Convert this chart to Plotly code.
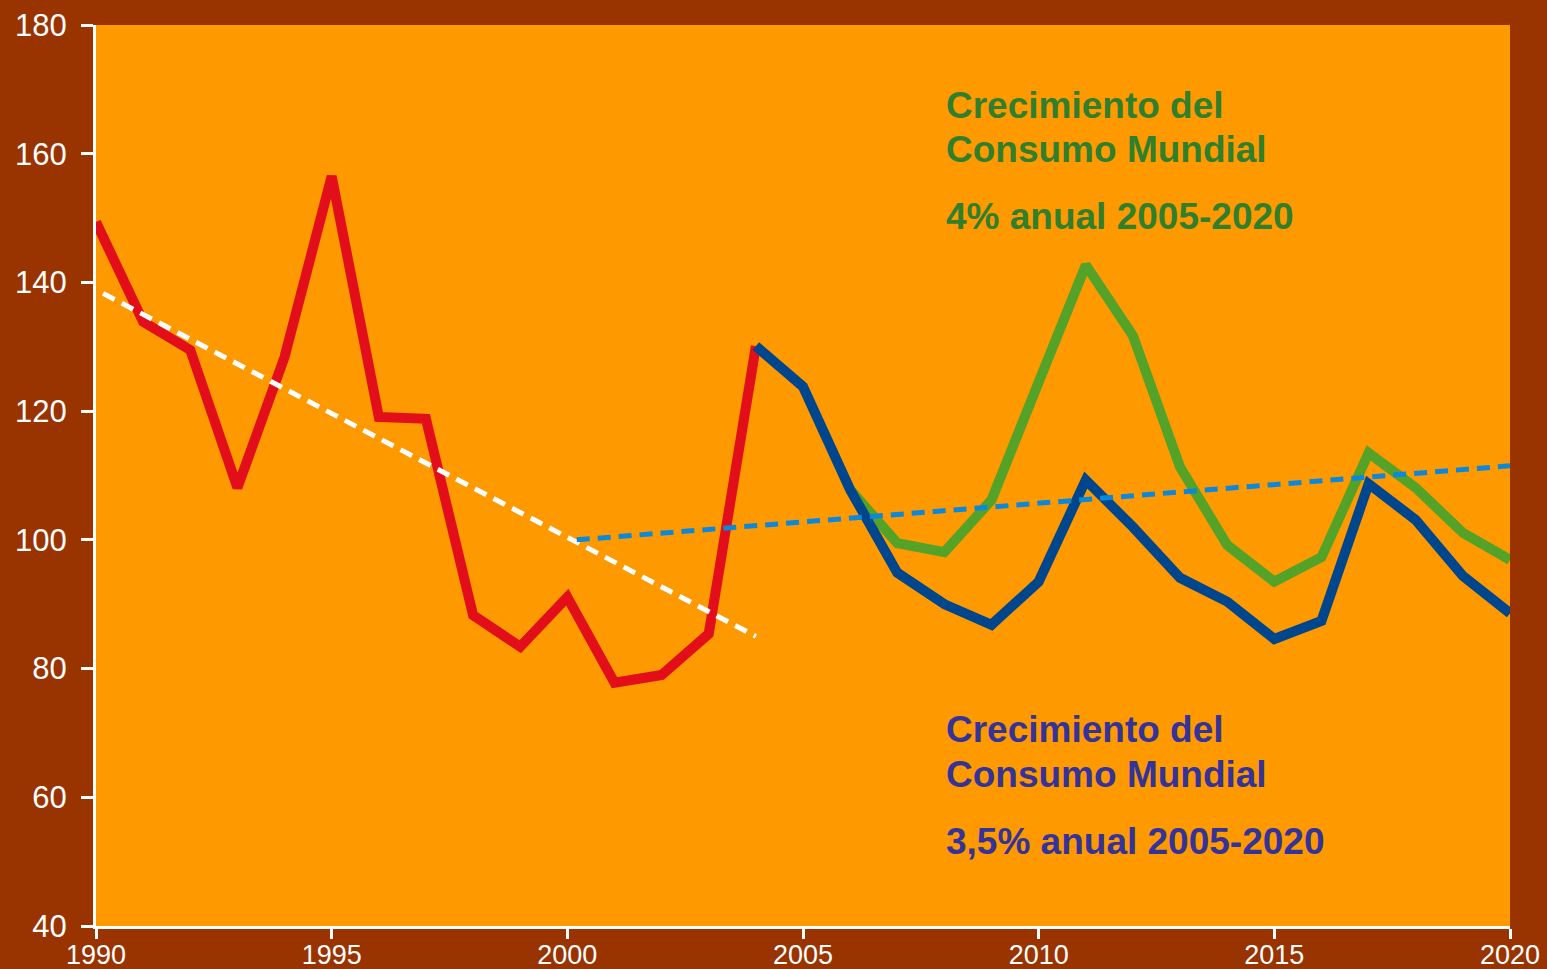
import plotly.graph_objects as go

years_red = list(range(1990, 2005))
red_vals = [149.4, 133.9, 129.5, 108.1, 128.4, 156.5, 119.1, 118.8, 88.3, 83.4, 91.1, 77.8, 79.0, 85.4, 130.1]

years_blue = list(range(2004, 2021))
blue_vals = [130.1, 123.8, 107.8, 94.9, 90.0, 86.8, 93.5, 109.3, 102.0, 94.1, 90.4, 84.6, 87.4, 108.7, 103.1, 94.4, 88.6]

years_green = list(range(2006, 2021))
green_vals = [107.8, 99.5, 98.1, 106.2, 124.5, 142.7, 131.7, 111.3, 99.2, 93.5, 97.3, 113.5, 108.1, 101.1, 96.9]

trend_down_x = [1990.15, 2004]
trend_down_y = [138.3, 85.0]
trend_up_x = [2000.2, 2020]
trend_up_y = [100.0, 111.5]

x_ticks = [1990, 1995, 2000, 2005, 2010, 2015, 2020]
y_ticks = [40, 60, 80, 100, 120, 140, 160, 180]

fig = go.Figure()
fig.add_trace(go.Scatter(x=years_red, y=red_vals, mode="lines",
                         line=dict(color="#E20E1A", width=10), showlegend=False))
fig.add_trace(go.Scatter(x=years_green, y=green_vals, mode="lines",
                         line=dict(color="#55A228", width=10), showlegend=False))
fig.add_trace(go.Scatter(x=years_blue, y=blue_vals, mode="lines",
                         line=dict(color="#00468C", width=10), showlegend=False))
fig.add_trace(go.Scatter(x=trend_down_x, y=trend_down_y, mode="lines",
                         line=dict(color="#FFFFFF", width=5, dash="13px,8px"), showlegend=False))
fig.add_trace(go.Scatter(x=trend_up_x, y=trend_up_y, mode="lines",
                         line=dict(color="#0A88DD", width=5, dash="13px,8px"), showlegend=False))

green_c = "#2F7F2C"
blue_c = "#333399"
fnt = "Liberation Sans, Arial, sans-serif"
ann = [
    ("Crecimiento del", 0.911, green_c),
    ("Consumo Mundial", 0.862, green_c),
    ("4% anual 2005-2020", 0.788, green_c),
    ("Crecimiento del", 0.2186, blue_c),
    ("Consumo Mundial", 0.1687, blue_c),
    ("3,5% anual 2005-2020", 0.0943, blue_c),
]
for txt, yy, col in ann:
    fig.add_annotation(x=0.5995, y=yy, xref="paper", yref="paper", text="<b>" + txt + "</b>",
                       showarrow=False, xanchor="left", yanchor="middle",
                       font=dict(family=fnt, size=37, color=col))

fig.update_layout(
    width=1547, height=969,
    paper_bgcolor="#993300", plot_bgcolor="#FF9900",
    margin=dict(l=96, r=37, t=25, b=43, autoexpand=False),
    font=dict(family=fnt, color="white"),
)
fig.update_xaxes(range=[1990, 2020], tickvals=x_ticks, showgrid=False, zeroline=False,
                 showline=True, linecolor="white", linewidth=3, automargin=False,
                 ticks="outside", ticklen=10, tickwidth=3, tickcolor="white",
                 ticklabelstandoff=-7,
                 tickfont=dict(size=27, color="white"))
fig.update_yaxes(range=[40, 180], tickvals=y_ticks, showgrid=False, zeroline=False,
                 showline=True, linecolor="white", linewidth=3, automargin=False,
                 ticks="outside", ticklen=12, tickwidth=3, tickcolor="white",
                 ticklabelstandoff=8,
                 tickfont=dict(size=31, color="white"))

fig.write_html("out.html", config={"displayModeBar": False},
               post_script="document.body.style.margin='0';document.body.style.overflow='hidden';")
